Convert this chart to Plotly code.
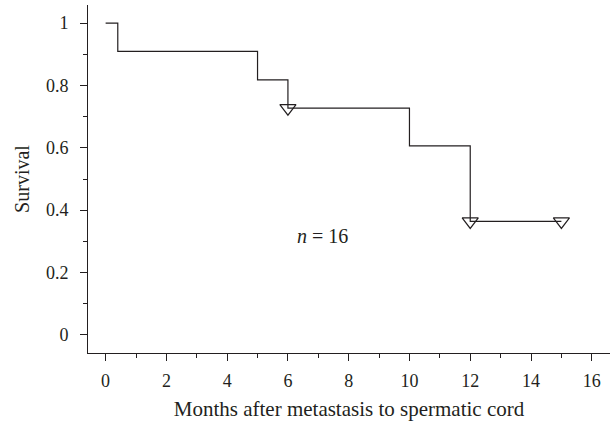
import plotly.graph_objects as go

step_times = [0, 0.4, 5, 6, 10, 12, 15]
survival = [1.0, 0.909, 0.818, 0.727, 0.606, 0.364, 0.364]
censor_times = [6, 12, 15]
censor_surv = [0.727, 0.364, 0.364]
x_ticks = [0, 2, 4, 6, 8, 10, 12, 14, 16]
y_ticks = [0, 0.2, 0.4, 0.6, 0.8, 1]

FONT = "Liberation Serif"
INK = "#231f20"

fig = go.Figure()
fig.add_trace(go.Scatter(x=step_times, y=survival, mode="lines", line_shape="hv",
                         line=dict(color=INK, width=1.2), showlegend=False, hoverinfo="skip"))
fig.add_trace(go.Scatter(x=censor_times, y=censor_surv, mode="markers",
                         marker=dict(symbol="triangle-down-open", size=14, color=INK,
                                     line=dict(width=1.2, color=INK)),
                         showlegend=False, hoverinfo="skip"))

fig.add_annotation(x=7.15, y=0.317, xref="x", yref="y", showarrow=False,
                   text="<i>n</i>\u00a0=\u00a016", font=dict(family=FONT, size=20, color=INK))

fig.update_layout(
    width=614, height=421,
    margin=dict(l=88, r=4, t=5, b=68),
    paper_bgcolor="white", plot_bgcolor="white",
    font=dict(family=FONT, size=18, color=INK),
    xaxis=dict(range=[-0.58, 16.6], tickvals=x_ticks, ticks="outside", ticklen=7, tickwidth=1,
               tickcolor=INK, showline=True, linecolor=INK, linewidth=1, showgrid=False,
               zeroline=False, automargin=False, ticklabelstandoff=4,
               tickfont=dict(family=FONT, size=18, color=INK),
               minor=dict(dtick=1, ticks="outside", ticklen=4, tickcolor=INK, tick0=0),
               title=dict(text="Months after metastasis to spermatic cord", standoff=11,
                          font=dict(family=FONT, size=21, color=INK))),
    yaxis=dict(range=[-0.058, 1.058], tickvals=y_ticks, ticks="outside", ticklen=7, tickwidth=1,
               tickcolor=INK, showline=True, linecolor=INK, linewidth=1, showgrid=False,
               zeroline=False, automargin=False, ticklabelstandoff=8,
               tickfont=dict(family=FONT, size=18, color=INK),
               minor=dict(dtick=0.1, ticks="outside", ticklen=4, tickcolor=INK, tick0=0),
               title=dict(text="Survival", standoff=10,
                          font=dict(family=FONT, size=20, color=INK))),
)

fig.write_html("out.html", config={"displayModeBar": False},
               post_script="document.body.style.margin='0';")
